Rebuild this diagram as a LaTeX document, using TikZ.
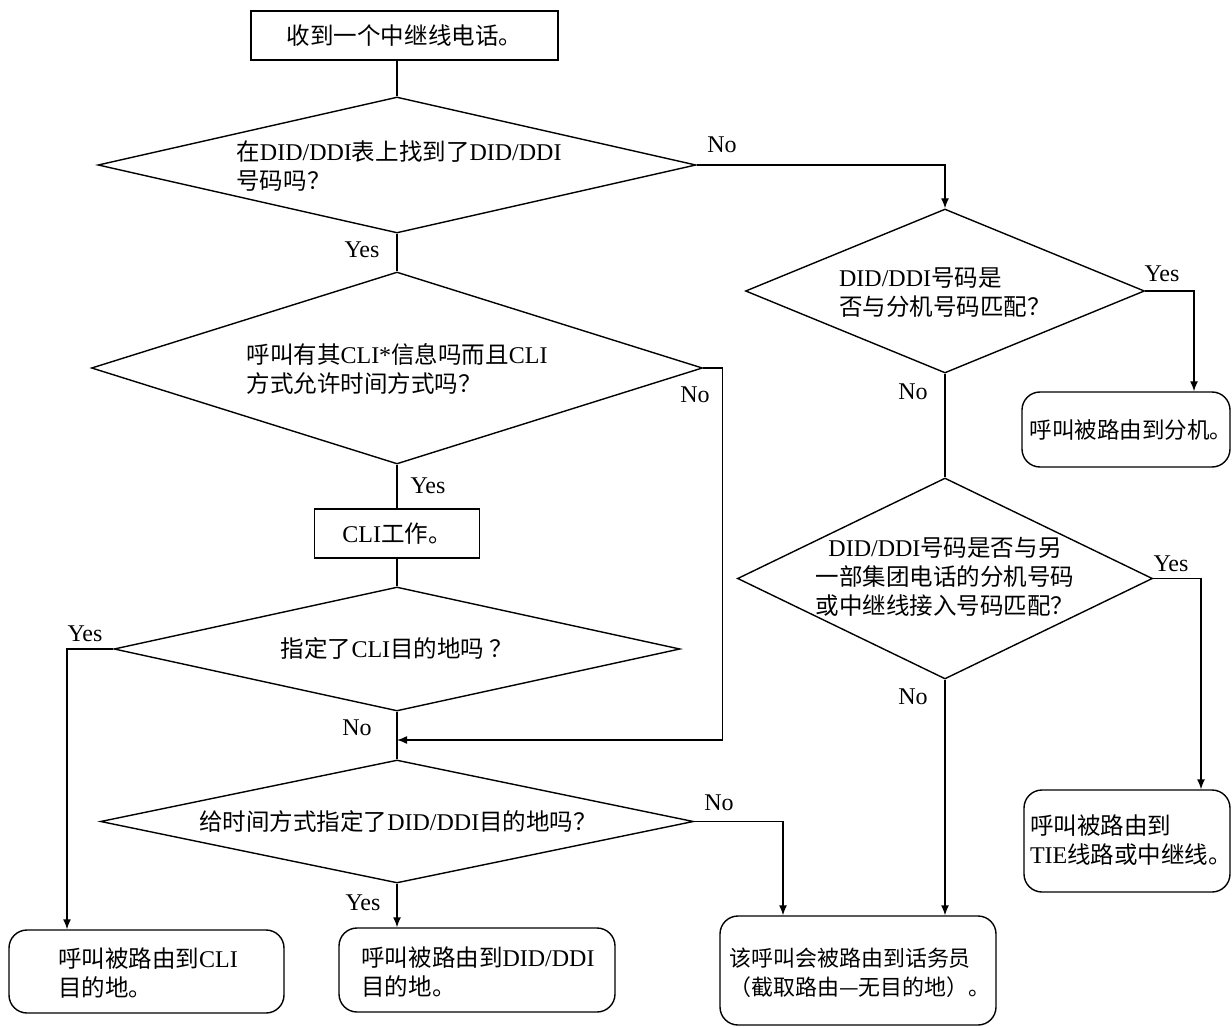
\documentclass[tikz,border=0pt]{standalone}
\usepackage{fontspec}
\setmainfont{Liberation Serif}
\newfontfamily\cjk[Scale=0.98]{Noto Sans CJK SC}
\usetikzlibrary{shapes.geometric,arrows.meta}
\tikzset{
  box/.style={draw, rectangle, inner sep=0pt},
  rbox/.style={draw, rectangle, rounded corners=9pt, inner sep=0pt},
  decision/.style={draw, diamond, inner sep=0pt},
  txt/.style={align=left, inner sep=0pt},
  lbl/.style={inner sep=0pt},
  flow/.style={-{Latex[length=5pt,width=4pt]}}
}
\begin{document}
\begin{tikzpicture}[x=0.5pt,y=-0.5pt,line width=0.7pt,font=\fontsize{12}{14.5}\selectfont]
\useasboundingbox (0,0) rectangle (1232,1027);
\node[box, minimum width=153.5pt, minimum height=24.5pt] (start) at (404.5,35.5) {{\cjk 收到一个中继线电话。}};
\node[decision, minimum width=299pt, minimum height=68pt] (d1) at (397,165) {};
\node[txt] (t1) at (399,166) {{\cjk 在}DID/DDI{\cjk 表上找到了}DID/DDI\\{\cjk 号码吗？}};
\node[decision, minimum width=305.5pt, minimum height=96pt] (d2) at (397,368) {};
\node[txt] (t2) at (397,369) {{\cjk 呼叫有其}CLI*{\cjk 信息吗而且}CLI\\{\cjk 方式允许时间方式吗？}};
\node[box, minimum width=82.5pt, minimum height=24.5pt] (cli) at (397,533.5) {CLI{\cjk 工作。}};
\node[decision, minimum width=283pt, minimum height=62pt] (d3) at (397,649) {};
\node[txt] (t3) at (397,649) {{\cjk 指定了}CLI{\cjk 目的地吗 ？}};
\node[decision, minimum width=296.5pt, minimum height=61.5pt] (d4) at (397,821.5) {};
\node[txt] (t4) at (398,822) {{\cjk 给时间方式指定了}DID/DDI{\cjk 目的地吗？}};
\node[rbox, minimum width=137.5pt, minimum height=41.5pt] (toCli) at (146.5,971.5) {};
\node[txt] (t5) at (148,973) {{\cjk 呼叫被路由到}CLI\\{\cjk 目的地。}};
\node[rbox, minimum width=138pt, minimum height=42pt] (toDid) at (477,970) {};
\node[txt] (t6) at (478,972) {{\cjk 呼叫被路由到}DID/DDI\\{\cjk 目的地。}};
\node[decision, minimum width=199.5pt, minimum height=82pt] (d5) at (945,291) {};
\node[txt] (t7) at (945,293) {DID/DDI{\cjk 号码是}\\{\cjk 否与分机号码匹配？}};
\node[rbox, minimum width=104pt, minimum height=37.5pt] (toExt) at (1126,429.5) {};
\node[txt, font=\fontsize{11.5}{14.5}\selectfont] (t11) at (1131,430) {{\cjk 呼叫被路由到分机。}};
\node[decision, minimum width=207.5pt, minimum height=100.5pt] (d6) at (945,578.5) {};
\node[txt, align=center] (t8) at (945,577) {DID/DDI{\cjk 号码是否与另}\\{\cjk 一部集团电话的分机号码}\\{\cjk 或中继线接入号码匹配？}};
\node[rbox, minimum width=103pt, minimum height=51pt] (toTie) at (1127,841) {};
\node[txt] (t9) at (1131,840) {{\cjk 呼叫被路由到}\\TIE{\cjk 线路或中继线。}};
\node[rbox, minimum width=138pt, minimum height=54.5pt] (toOp) at (858,970.5) {};
\node[txt, font=\fontsize{11.2}{14.5}\selectfont] (t10) at (860,973) {{\cjk 该呼叫会被路由到话务员}\\{\cjk （截取路由—无目的地）。}};
\node[lbl] (n1) at (722,145) {No};
\node[lbl] (y1) at (362,250) {Yes};
\node[lbl] (n2) at (695,395) {No};
\node[lbl] (y2) at (428,486) {Yes};
\node[lbl] (y3) at (85,634) {Yes};
\node[lbl] (n3) at (357,728) {No};
\node[lbl] (n4) at (719,803) {No};
\node[lbl] (y4) at (363,903) {Yes};
\node[lbl] (y5) at (1162,274) {Yes};
\node[lbl] (n5) at (913,392) {No};
\node[lbl] (y6) at (1171,564) {Yes};
\node[lbl] (n6) at (913,697) {No};
\coordinate (m1) at (397,740);
\draw (start.south -| d1.north) -- (d1.north);
\draw (d1.south) -- (d2.north);
\draw[flow] (d1.east) -| (d5.north);
\draw (d2.south) -- (cli.north);
\draw[flow] (d2.east) -- ++(19,0) |- (m1);
\draw (cli.south) -- (d3.north);
\draw (d3.south) -- (d4.north);
\draw[flow] (d3.west) -| ([xshift=-39.75pt]toCli.north);
\draw[flow] (d4.south) -- (d4.south |- toDid.north);
\draw[flow] (d4.east) -| ([xshift=-37.5pt]toOp.north);
\draw[flow] (d5.east) -| ([xshift=34pt]toExt.north);
\draw (d5.south) -- (d6.north);
\draw[flow] (d6.east) -| ([xshift=37pt]toTie.north);
\draw[flow] (d6.south) -- (d6.south |- toOp.north);
\end{tikzpicture}
\end{document}
